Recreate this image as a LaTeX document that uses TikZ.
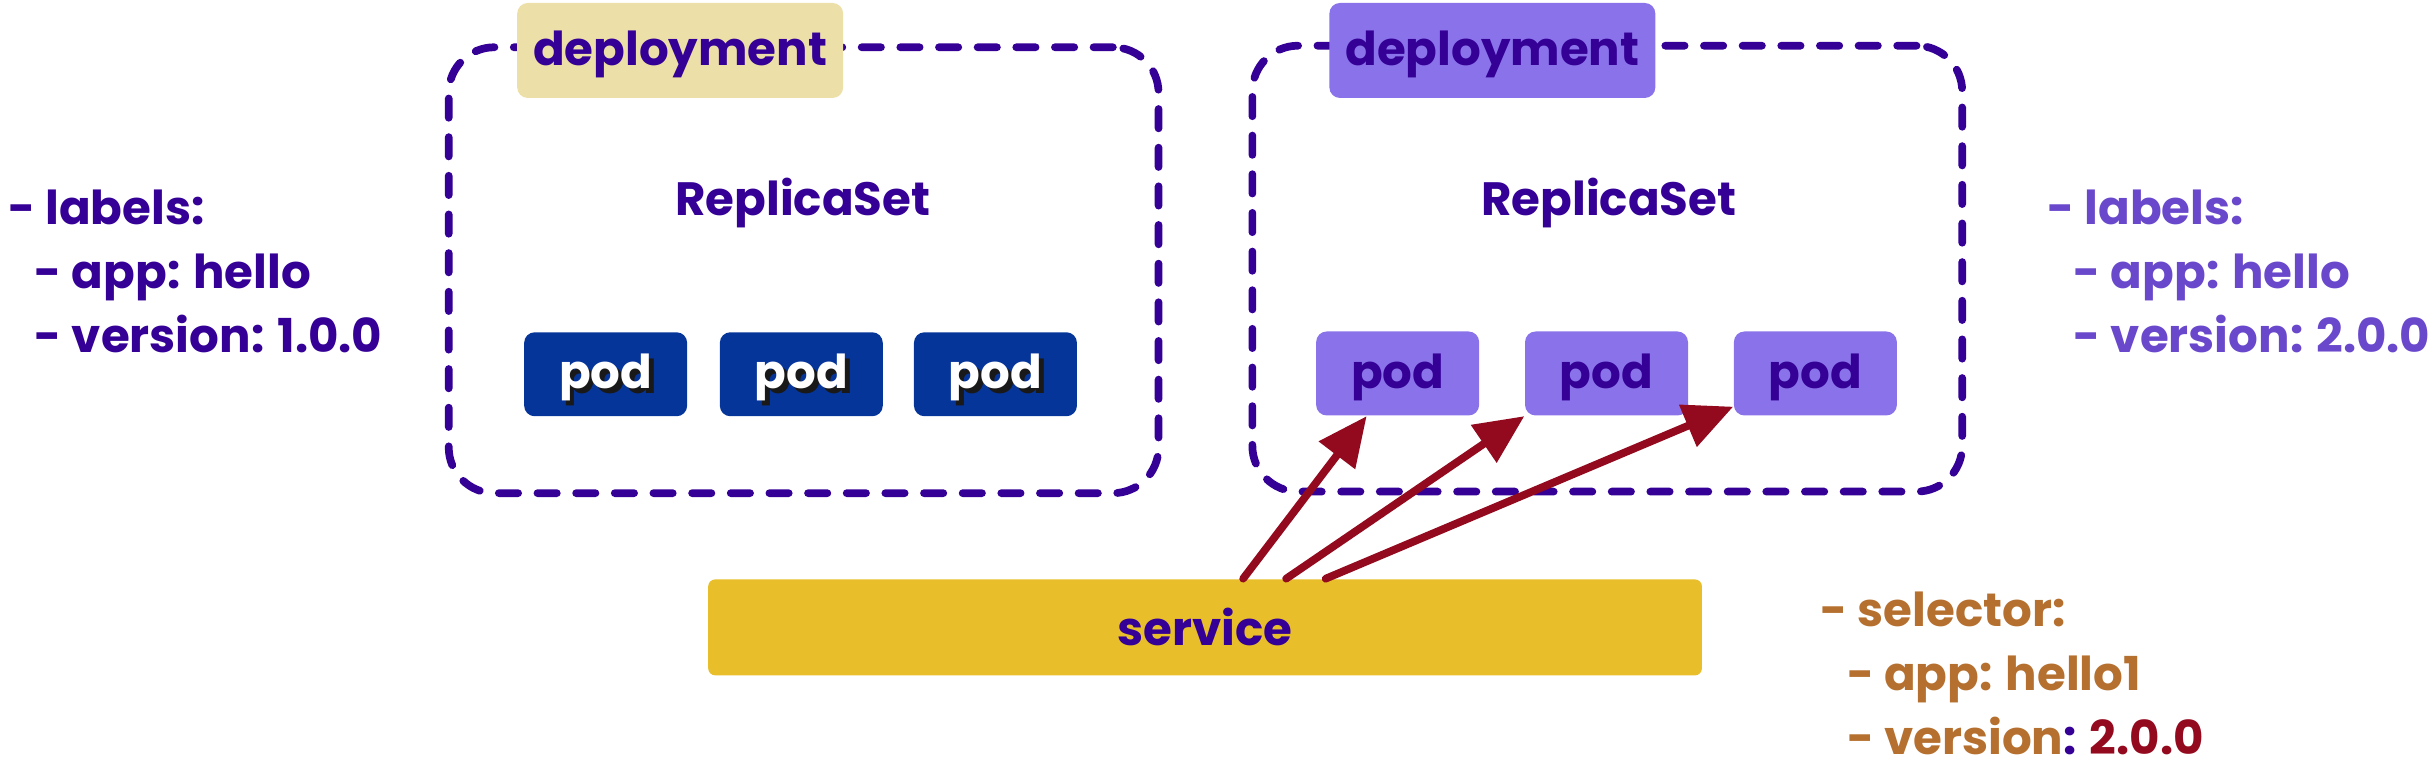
\documentclass[tikz,border=0pt]{standalone}
\usepackage{fontspec}
\setmainfont{Poppins}
\usetikzlibrary{arrows.meta}
\definecolor{indigo}{HTML}{340096}
\definecolor{tan}{HTML}{EDDFA8}
\definecolor{navy}{HTML}{06359A}
\definecolor{lilac}{HTML}{8A73EA}
\definecolor{violet}{HTML}{6A48CC}
\definecolor{gold}{HTML}{E8BF2B}
\definecolor{wine}{HTML}{930A1F}
\definecolor{ochre}{HTML}{B5702F}
\newcommand\shadowed[1]{\makebox[0pt][l]{\hspace{1.4pt}\raisebox{-1.4pt}{\color{black!90}#1}}#1}
\begin{document}
\begin{tikzpicture}[x=0.01553cm, y=-0.01553cm,
  font=\fontsize{13.3}{18.2}\selectfont\bfseries,
  depbox/.style={draw=indigo, line width=2.2pt, dash pattern=on 5.5pt off 5.5pt,
    line cap=round, rounded corners=13pt, minimum width=7.1cm, minimum height=4.46cm},
  deptag/.style={rounded corners=3pt, minimum width=3.26cm, minimum height=0.95cm,
    text=indigo, text height=0.95em, text depth=0.12em},
  podbox/.style={rounded corners=3pt, minimum width=1.63cm, minimum height=0.84cm,
    text height=0.95em, text depth=0.12em},
  selarrow/.style={draw=wine, line width=2.2pt, line cap=round,
    -{Triangle[length=14pt,width=12.5pt]}},
  yamltext/.style={anchor=north west, align=left, inner sep=0pt}]
  \useasboundingbox (0,0) rectangle (1568,494.5);
  % deployments
  \node[depbox] (d1) at (517.5,174) {};
  \node[depbox] (d2) at (1035,173) {};
  \node[deptag, fill=tan] (t1) at (438,32.5) {deployment};
  \node[deptag, fill=lilac] (t2) at (961,32.5) {deployment};
  \node[text=indigo] (r1) at (517,131) {ReplicaSet};
  \node[text=indigo] (r2) at (1036,131) {ReplicaSet};
  % pods
  \node[podbox, fill=navy, text=white] (p1) at (390,241) {\shadowed{pod}};
  \node[podbox, fill=navy, text=white] (p2) at (516,241) {\shadowed{pod}};
  \node[podbox, fill=navy, text=white] (p3) at (641,241) {\shadowed{pod}};
  \node[podbox, fill=lilac, text=indigo] (p4) at (900,240.5) {pod};
  \node[podbox, fill=lilac, text=indigo] (p5) at (1034.5,240.5) {pod};
  \node[podbox, fill=lilac, text=indigo] (p6) at (1169,240.5) {pod};
  % service
  \node[fill=gold, rounded corners=2pt, minimum width=9.94cm, minimum height=0.96cm,
    text=indigo] (svc) at (776,404) {service};
  \draw[selarrow] (svc.52) -- (p4.-126);
  \draw[selarrow] (svc.31) -- (p5.south west);
  \draw[selarrow] (svc.22) -- (p6.202);
  % labels
  \node[yamltext, text=indigo] (l1) at (5,122)
    {- labels:\\\hspace*{7.5pt}- app: hello\\\hspace*{7.5pt}- version: 1.0.0};
  \node[yamltext, text=violet] (l2) at (1318,122)
    {- labels:\\\hspace*{7.5pt}- app: hello\\\hspace*{7.5pt}- version: 2.0.0};
  \node[yamltext, text=ochre] (sel) at (1172,381)
    {- selector:\\\hspace*{7.5pt}- app: hello1\\\hspace*{7.5pt}- version{\color{indigo}:} {\color{wine}2.0.0}};
\end{tikzpicture}
\end{document}
